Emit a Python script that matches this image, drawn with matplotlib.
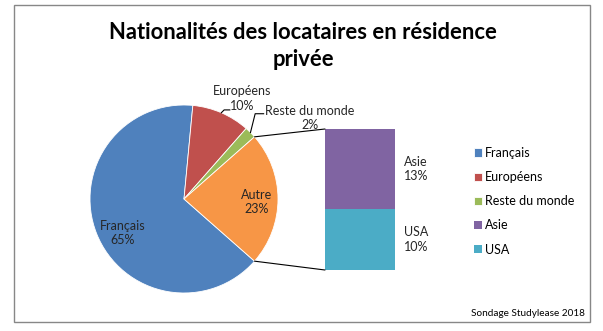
import matplotlib
matplotlib.use("Agg")
import matplotlib.pyplot as plt
from matplotlib.patches import ConnectionPatch, Rectangle
import numpy as np

plt.rcParams['font.family'] = ['Lato', 'DejaVu Sans']

# ---- data ----
pie_labels = ["Français", "Européens", "Reste du monde", "Autre"]
pie_values = [65, 10, 2, 23]
pie_colors = ["#4F81BD", "#C0504D", "#9BBB59", "#F79646"]
bar_labels = ["USA", "Asie"]
bar_values = [10, 13]
bar_colors = ["#4BACC6", "#8064A2"]
title = "Nationalités des locataires en résidence\nprivée"
source = "Sondage Studylease 2018"

W, H = 603, 331
fig = plt.figure(figsize=(W / 100, H / 100), dpi=100)
fig.patch.set_facecolor("white")

def fx(px):
    return px / W

def fy(py):
    return 1 - py / H

# outer border
fig.patches.append(Rectangle((fx(14), fy(322)), fx(590) - fx(14), fy(5) - fy(322),
                             transform=fig.transFigure, fill=False,
                             edgecolor="#878787", linewidth=1.0))

# title
fig.text(fx(303), fy(46), title, ha="center", va="center", fontsize=15.8,
         fontweight="bold", linespacing=1.3, color="black")

# ---- pie ----
cx, cy, r = 184, 199, 94
ax_pie = fig.add_axes([fx(cx - r), fy(cy + r), 2 * r / W, 2 * r / H])
total = sum(pie_values)
other_frac = pie_values[-1] / total
start = -other_frac * 180.0
wedges, _ = ax_pie.pie(pie_values, colors=pie_colors, startangle=start,
                       counterclock=False, radius=1,
                       wedgeprops=dict(edgecolor="white", linewidth=0.6))
for w in wedges:
    w.set_clip_on(False)
ax_pie.set_xlim(-1, 1)
ax_pie.set_ylim(-1, 1)
ax_pie.set_aspect("auto")
ax_pie.axis("off")

fs = 9
pie_label_pos = [(-0.65, -0.36), (0.62, 1.07), (1.34, 0.86), (0.77, -0.03)]
for lab, v, (lx, ly) in zip(pie_labels, pie_values, pie_label_pos):
    ax_pie.text(lx, ly, f"{lab}\n{v}%", ha="center", va="center", fontsize=fs,
                linespacing=1.25, color="#262626", clip_on=False)

# leader lines
def edge_pt(w):
    a = np.deg2rad((w.theta1 + w.theta2) / 2)
    return np.cos(a), np.sin(a)

ex, ey = edge_pt(wedges[1])
ax_pie.plot([ex, ex + 0.03, ex + 0.09], [ey, ey + 0.03, ey + 0.03],
            color="black", lw=0.8, clip_on=False)
ex, ey = edge_pt(wedges[2])
ax_pie.plot([ex, ex + 0.05, ex + 0.14], [ey, ey + 0.2, ey + 0.2],
            color="black", lw=0.8, clip_on=False)

# ---- stacked bar ----
bx0, bx1, by0, by1 = 325, 395, 129, 270
ax_bar = fig.add_axes([fx(bx0), fy(by1), (bx1 - bx0) / W, (by1 - by0) / H])
bottom = 0
bars = []
for lab, v, c in zip(bar_labels, bar_values, bar_colors):
    b = ax_bar.bar(0, v, bottom=bottom, width=1, color=c, edgecolor="none")
    bars.append(b[0])
    ax_bar.text(0.63, bottom + v / 2, f"{lab}\n{v}%", ha="left", va="center",
                fontsize=fs, linespacing=1.25, color="#262626", clip_on=False)
    bottom += v
ax_bar.set_xlim(-0.5, 0.5)
ax_bar.set_ylim(0, bottom)
ax_bar.axis("off")

# connector lines (upper edge of "Autre" -> top of bar, lower edge -> bottom)
w = wedges[-1]
hi = max(w.theta1, w.theta2)
lo = min(w.theta1, w.theta2)
for ang, yb in [(hi, bottom), (lo, 0)]:
    a = np.deg2rad(ang)
    con = ConnectionPatch(xyA=(np.cos(a), np.sin(a)), coordsA=ax_pie.transData,
                          xyB=(-0.5, yb), coordsB=ax_bar.transData,
                          color="black", linewidth=0.8)
    fig.add_artist(con)

# ---- legend ----
handles = [wedges[0], wedges[1], wedges[2], bars[1], bars[0]]
labels = [pie_labels[0], pie_labels[1], pie_labels[2], bar_labels[1], bar_labels[0]]
fig.legend(handles, labels, loc="upper left", bbox_to_anchor=(fx(474), fy(147)),
           frameon=False, fontsize=fs, handlelength=0.65, handleheight=0.65,
           handletextpad=0.25, labelspacing=0.97, borderpad=0, borderaxespad=0)

# source
fig.text(fx(585), fy(313), source, ha="right", va="center", fontsize=7.2,
         color="black")

fig.savefig("out.png", dpi=100, facecolor="white")
